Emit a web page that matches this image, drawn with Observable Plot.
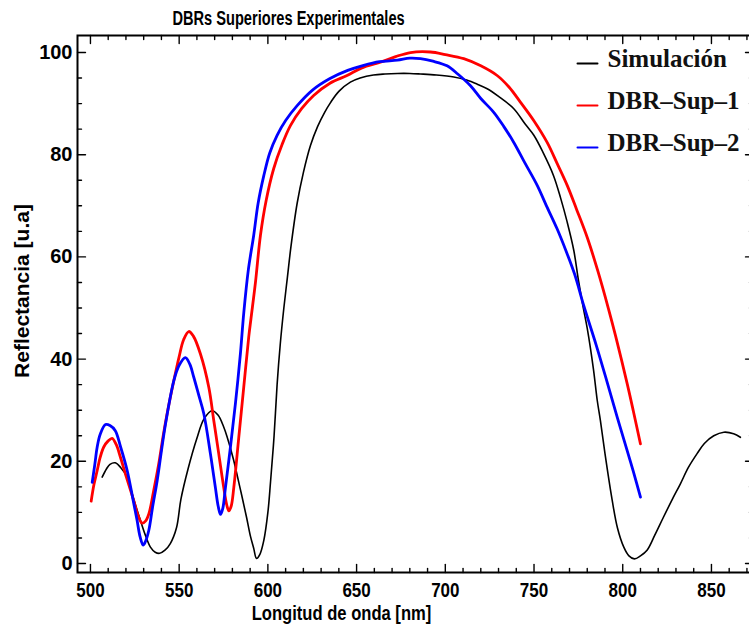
<!DOCTYPE html>
<html><head><meta charset="utf-8">
<script src="https://cdn.jsdelivr.net/npm/d3@7"></script>
<script src="https://cdn.jsdelivr.net/npm/@observablehq/plot@0.6"></script>
<style>
html,body{margin:0;padding:0;background:#fff;overflow:hidden;}
</style></head><body><div id="chart"></div>
<script>
// ---- data ----
const chartTitle = "DBRs Superiores Experimentales";
const xLabel = "Longitud de onda [nm]";
const yLabel = "Reflectancia [u.a]";
const seriesNames = ["Simulación", "DBR–Sup–1", "DBR–Sup–2"];
const xTicks = [500, 550, 600, 650, 700, 750, 800, 850];
const yTicks = [0, 20, 40, 60, 80, 100];

const simWl = [506.6,509,511,514,517,520.7,524,528.2,531,533.8,536.5,539,542,545,548.5,551,555,560,564,568.6,572,575,577,580.5,584.5,588,590.2,592,593.6,595.5,597.7,600,601.5,603.5,605.2,607,609,611,613,616.5,620,624,628,632,635.3,640,646.5,652,659.5,666,673,680,686,695,704.8,712,718,723.6,730,738.6,745,749.9,755,761,765,768.7,772.4,775,777.5,780,783.5,785.6,787.4,790,794,797,800.6,803.5,806.6,810,813.7,818,823,828,832.5,837,841.9,846,851.3,857,862.5,866.3];
const simR = [16.9,18.5,19.4,19.7,18.8,16.9,13,8.4,5.5,3.2,2.2,2.0,2.6,3.9,7,12.6,18.5,24.5,28.3,29.9,29.0,26.8,24.8,20.5,14.5,9,5.3,3,1,1.8,4.5,10,16,25,35,43,50,56,62,70.5,76.5,81.8,85.5,88.3,90.2,92.4,94.2,95,95.6,95.8,95.9,95.9,95.8,95.6,95.2,94.6,93.8,92.9,91.4,89,86,83.8,80.5,75.9,71.5,66.8,61.3,55.5,50.5,46,38,32,28,21.5,12.5,7,3.2,1.5,0.9,1.5,2.6,5.5,9.1,12.6,15.6,18.8,21.5,23.5,25,25.7,25.4,24.7];

const sup1Wl = [500.4,502,503.8,505.5,507.5,510,512.2,514.5,516.9,520,524.4,527,529.1,531,532.9,535.5,538.5,541,543.2,547,550,552.5,555.4,558,562,566.7,569.5,572.3,575.1,576.8,578,579.3,580.8,583.6,586.4,589.2,590.5,593,595.8,599,603.3,608,612.7,619,625.8,635,644.6,653,663.4,672,680.4,691.6,700,710.4,720,729.2,736,742.3,750,757.4,763,768.7,774,780,786,792,796,802.5,806,810];
const sup1R = [12.2,15.5,18.2,20.8,22.8,24,24.5,23.3,20.8,17.2,12.3,9.2,7.9,8.3,9.7,14,19.5,25,29.3,35.8,40.5,43.8,45.4,44.5,41,34.5,28,21.5,14.9,11.5,10.3,11.2,14.9,24.7,34.5,44.3,48,55,64.2,71,77.3,82,85.7,89,91.6,94,95.5,97,98.1,99.2,100,100.1,99.6,98.8,97.4,95.5,93.2,90.3,86.6,82.4,78.3,74,69.3,63.8,57.2,49.8,44.5,35.2,29.8,23.4];

const sup2Wl = [501,502.5,503.8,505.5,508.5,511,514,517,520.7,524,526.3,528,529.7,531,532.9,535,537.6,540,542.3,547,550,553.5,556,558.2,561,563.9,567.6,570.4,572,573.3,574.6,576.1,578.9,581.7,584.5,586.4,589,592,594.5,597.7,601,605.2,610,616.5,625,635,645,654,663,673,680,686,693,701,707,714.2,720,727.3,733,738.6,745,751.8,757,763,768,773,778,785,791.2,797,802.5,806,810];
const sup2R = [15.9,19.5,22.8,25.3,27.2,27,26,22.8,18.2,12.5,8.4,5.2,3.6,4.3,6.5,11,16.2,22,27.3,35.8,38.8,40.3,39,36.5,33,29.3,21.5,14.9,11.2,9.6,10.8,14.9,22.8,31.3,41,49,57.5,64.2,70.5,75.9,80.3,83.8,86.7,89.6,92.6,94.9,96.5,97.5,98.2,98.5,98.9,98.8,98.3,97.4,95.8,93.5,91,88.3,85.5,82.4,78.3,74,70,65.5,61.2,56.5,50.5,42.8,35.5,28.5,22.1,18,13];

// ---- build tables ----
const toRows = (wl, r) => wl.map((w, i) => ({wl: w, r: r[i]}));
const sim = toRows(simWl, simR);
const sup1 = toRows(sup1Wl, sup1R);
const sup2 = toRows(sup2Wl, sup2R);

const xMinor = d3.range(500, 871, 10).filter(v => !xTicks.includes(v));
const yMinor = d3.range(0, 101, 5).filter(v => !yTicks.includes(v));

const sans = "'Liberation Sans', Arial, sans-serif";
const serif = "'Liberation Serif', 'Times New Roman', serif";
const colors = ["black", "red", "blue"];

const tickShape = {draw(ctx, l) { ctx.moveTo(0, 0); ctx.lineTo(0, -l); }};
const tickMarks = (vals, ch, anchor, rotate, len) =>
  Plot.vector(vals, {[ch]: d => d, frameAnchor: anchor, rotate, length: len, anchor: "start",
    shape: tickShape, stroke: "black", strokeWidth: 1.4});

const legendMarks = seriesNames.flatMap((name, i) => [
  Plot.vector([name], {frameAnchor: "top-left", dx: 500, dy: 28 + 42 * i, rotate: 90, length: 20,
    anchor: "start", shape: tickShape, stroke: colors[i], strokeWidth: 2}),
  Plot.text([name], {text: d => d, frameAnchor: "top-left", dx: 530, dy: 23 + 42 * i,
    textAnchor: "start", lineAnchor: "middle", fontFamily: serif, fontWeight: "bold", fontSize: 25, fill: "#111"})
]);

const plot = Plot.plot({
  width: 749, height: 628,
  marginLeft: 77, marginRight: -4, marginTop: 35, marginBottom: 56,
  style: {fontFamily: sans, fontWeight: "bold", fontSize: "19px", background: "white", color: "black"},
  x: {domain: [492.7, 873.7], label: null},
  y: {domain: [-1.76, 103.33], label: null},
  marks: [
    Plot.line(sim, {x: "wl", y: "r", stroke: colors[0], strokeWidth: 1.6, curve: "catmull-rom"}),
    Plot.line(sup1, {x: "wl", y: "r", stroke: colors[1], strokeWidth: 2.8, curve: "catmull-rom"}),
    Plot.line(sup2, {x: "wl", y: "r", stroke: colors[2], strokeWidth: 2.8, curve: "catmull-rom"}),
    Plot.frame({stroke: "black", strokeWidth: 2}),
    tickMarks(xTicks, "x", "bottom", 0, 8),
    tickMarks(xMinor, "x", "bottom", 0, 4),
    tickMarks(xTicks, "x", "top", 180, 8),
    tickMarks(xMinor, "x", "top", 180, 4),
    tickMarks(yTicks, "y", "left", 90, 8),
    tickMarks(yMinor, "y", "left", 90, 4),
    tickMarks(yTicks, "y", "right", -90, 8),
    tickMarks(yMinor, "y", "right", -90, 4),
    Plot.axisX(xTicks, {tickSize: 0, tickPadding: 10, label: null, tickFormat: d => String(d),
      fontFamily: sans, fontWeight: "bold", fontSize: 20}),
    Plot.axisY(yTicks, {tickSize: 0, tickPadding: 5, label: null, tickFormat: d => String(d),
      fontFamily: sans, fontWeight: "bold", fontSize: 20}),
    Plot.text([chartTitle], {text: d => d, frameAnchor: "top", dx: -127, dy: -17, lineAnchor: "middle",
      textAnchor: "middle", fontFamily: sans, fontWeight: "bold", fontSize: 19.5}),
    Plot.text([xLabel], {text: d => d, frameAnchor: "bottom", dx: -74, dy: 41, lineAnchor: "middle",
      textAnchor: "middle", fontFamily: sans, fontWeight: "bold", fontSize: 21}),
    Plot.text([yLabel], {text: d => d, frameAnchor: "left", dx: -55, dy: -13, rotate: -90,
      textAnchor: "middle", lineAnchor: "middle", fontFamily: sans, fontWeight: "bold", fontSize: 21}),
    ...legendMarks
  ]
});
document.getElementById("chart").appendChild(plot);

// the reference's horizontal sans texts are condensed: squeeze each around its centre
const svgNS = "http://www.w3.org/2000/svg";
const condense = (t, k) => {
  const r = t.getBoundingClientRect();
  const p = plot.createSVGPoint();
  p.x = r.left + r.width / 2; p.y = r.top;
  const q = p.matrixTransform(t.parentNode.getScreenCTM().inverse());
  const g = document.createElementNS(svgNS, "g");
  g.setAttribute("transform", `translate(${q.x},0) scale(${k},1) translate(${-q.x},0)`);
  t.parentNode.insertBefore(g, t);
  g.appendChild(t);
};
const allTexts = Array.from(plot.querySelectorAll("text"));
allTexts.filter(t => t.textContent === chartTitle).forEach(t => condense(t, 0.75));
allTexts.filter(t => t.textContent === xLabel).forEach(t => condense(t, 0.79));
allTexts.filter(t => xTicks.map(String).includes(t.textContent)).forEach(t => condense(t, 0.85));
</script></body></html>
